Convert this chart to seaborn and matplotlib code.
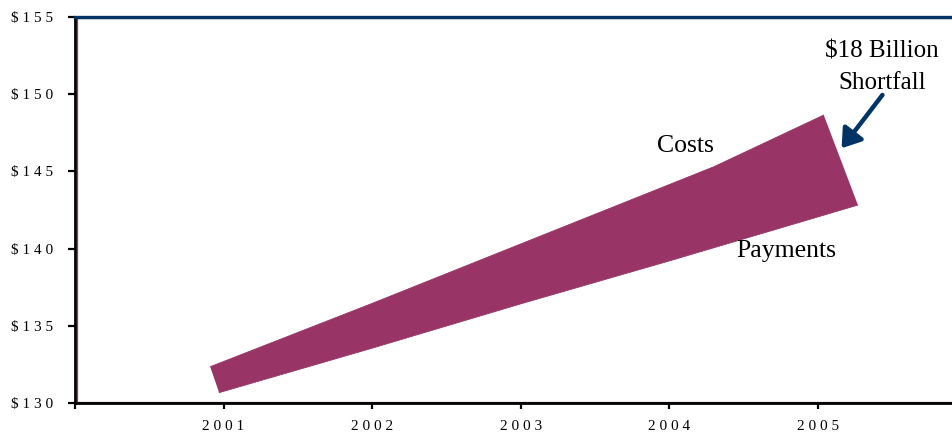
import numpy as np
import pandas as pd
import seaborn as sns
import matplotlib.pyplot as plt

# Outline of the shortfall band (x in years, y in $ billions)
costs_x = [2000.91, 2002.00, 2003.00, 2004.30, 2005.04]
costs_y = [132.35, 136.45, 140.30, 145.30, 148.65]
payments_x = [2000.97, 2002.00, 2003.00, 2004.00, 2005.27]
payments_y = [130.67, 133.55, 136.42, 139.20, 142.82]

year_ticks = [2000, 2001, 2002, 2003, 2004, 2005]
year_labels = ["", "2 0 0 1", "2 0 0 2", "2 0 0 3", "2 0 0 4", "2 0 0 5"]
y_ticks = [130, 135, 140, 145, 150, 155]
y_labels = ["$ 1 3 0", "$ 1 3 5", "$ 1 4 0", "$ 1 4 5", "$ 1 5 0", "$ 1 5 5"]

FILL = "#983566"
NAVY = "#003366"

sns.set_style("white")
plt.rcParams["font.family"] = ["Liberation Serif", "DejaVu Serif"]
plt.rcParams["text.color"] = "black"

fig = plt.figure(figsize=(9.53, 4.33), dpi=100)
ax = fig.add_axes([75 / 953, 1 - 403 / 433, 1 - 75 / 953, (403 - 17) / 433])

poly_x = np.concatenate([costs_x, payments_x[::-1]])
poly_y = np.concatenate([costs_y, payments_y[::-1]])
ax.fill(poly_x, poly_y, color=FILL, linewidth=0, zorder=2)

df_c = pd.DataFrame({"x": costs_x, "y": costs_y})
df_p = pd.DataFrame({"x": payments_x, "y": payments_y})
sns.lineplot(data=df_c, x="x", y="y", ax=ax, color=FILL, linewidth=0.6, sort=False, zorder=2)
sns.lineplot(data=df_p, x="x", y="y", ax=ax, color=FILL, linewidth=0.6, sort=False, zorder=2)

ax.set_xlim(2000.0, 2005.91)
ax.set_ylim(130, 155)
ax.set_xticks(year_ticks)
ax.set_xticklabels(year_labels)
ax.set_yticks(y_ticks)
ax.set_yticklabels(y_labels)
ax.set_xlabel("")
ax.set_ylabel("")

ax.tick_params(axis="x", direction="out", length=4, width=1.6, pad=8,
               labelsize=11, colors="black", bottom=True)
ax.tick_params(axis="y", direction="out", length=5, width=1.6, pad=11,
               labelsize=11, colors="black", left=True)

# thin maroon plot-area border just inside the axis lines
ax.axhline(130.07, color=FILL, lw=0.9, zorder=1)
ax.axvline(2000.012, color=FILL, lw=0.9, zorder=1)
ax.axhline(154.93, color=FILL, lw=0.9, zorder=1)

for s in ["left", "bottom"]:
    ax.spines[s].set_color("black")
    ax.spines[s].set_linewidth(2.0)
    ax.spines[s].set_visible(True)
ax.spines["top"].set_visible(True)
ax.spines["top"].set_color(NAVY)
ax.spines["top"].set_linewidth(2.4)
ax.spines["right"].set_visible(False)

ax.text(2004.11, 146.64, "Costs", fontsize=18.5, color="black",
        ha="center", va="center", zorder=3)
ax.text(2004.79, 139.84, "Payments", fontsize=18.5, color="black",
        ha="center", va="center", zorder=3)
ax.text(2005.43, 151.75, "$18 Billion\nShortfall", fontsize=18, color="black",
        ha="center", va="center", linespacing=1.55, zorder=3)
ax.annotate("", xy=(2005.16, 146.5), xytext=(2005.435, 149.95),
            arrowprops=dict(arrowstyle="-|>,head_length=1.1,head_width=0.75",
                            color=NAVY, lw=3.2, shrinkA=0, shrinkB=0), zorder=3)

fig.savefig("out.png", dpi=100)
